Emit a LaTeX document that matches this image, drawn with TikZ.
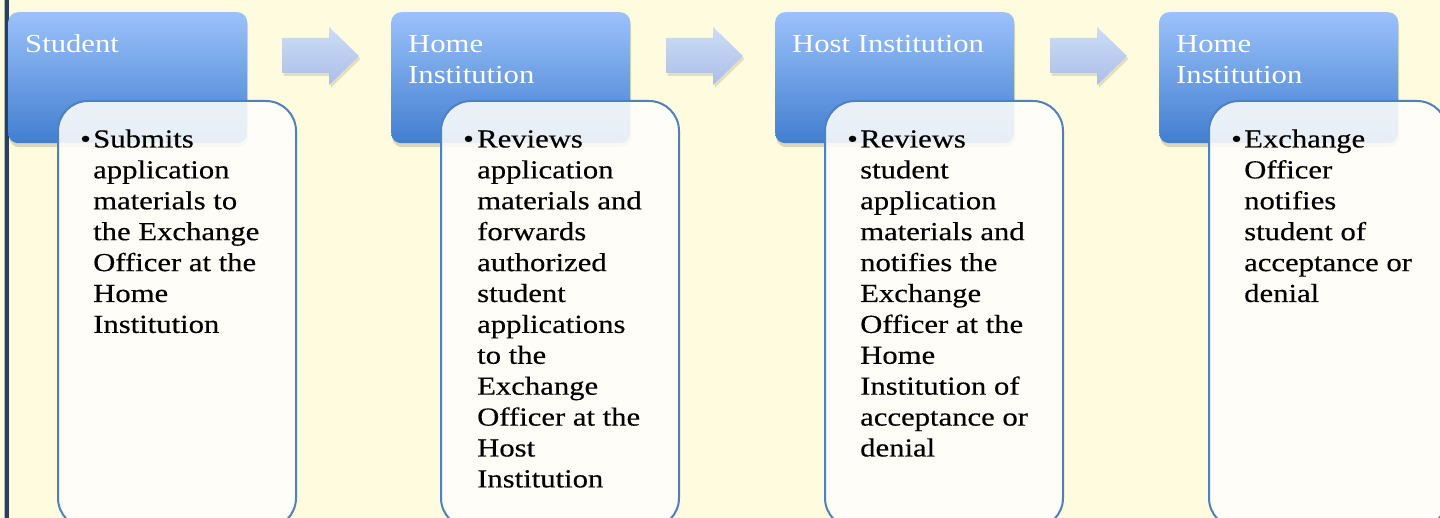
\documentclass[tikz,border=0pt]{standalone}
\usepackage{fontspec}
\setmainfont[FakeStretch=1.18,FakeBold=0.35]{Liberation Serif}
\newfontfamily\hdfont[FakeStretch=1.18]{Liberation Serif}
\usetikzlibrary{shadows}
\definecolor{bgc}{RGB}{255,251,222}
\definecolor{edge}{RGB}{36,63,96}
\definecolor{hdtop}{RGB}{155,194,250}
\definecolor{hdbot}{RGB}{66,126,208}
\definecolor{artop}{RGB}{205,221,247}
\definecolor{arbot}{RGB}{170,190,232}
\definecolor{tbline}{RGB}{79,129,189}
\definecolor{tbfill}{RGB}{254,254,251}
\definecolor{shd}{RGB}{120,110,80}
\tikzset{
  hdr/.style={rounded corners=10pt, top color=hdtop, bottom color=hdbot, draw=none,
    minimum width=239pt, minimum height=131pt, anchor=north west, inner sep=0pt,
    drop shadow={shadow xshift=1pt, shadow yshift=-4pt, opacity=0.25, fill=shd}},
  tbox/.style={rounded corners=30pt, draw=tbline, line width=2pt, fill=tbfill, fill opacity=0.88,
    minimum width=238pt, minimum height=427pt, anchor=north west, inner sep=0pt},
  htxt/.style={text=white, anchor=base west, inner sep=0pt, font=\hdfont\fontsize{26}{30.5}\selectfont},
  btxt/.style={text=black, anchor=base west, inner sep=0pt, font=\fontsize{26}{30.9}\selectfont},
  arw/.style={top color=artop, bottom color=arbot, draw=none,
    drop shadow={shadow xshift=1.5pt, shadow yshift=-3pt, opacity=0.2, fill=shd}}
}
\newcommand{\btext}[1]{\parbox[t]{200pt}{\raggedright\fontsize{26}{30.9}\selectfont #1}}
\newcommand{\htext}[1]{\parbox[t]{220pt}{\raggedright\hdfont\fontsize{26}{30.5}\selectfont #1}}
\begin{document}
\begin{tikzpicture}[x=1pt,y=-1pt]
\useasboundingbox (0,0) rectangle (1440,518);
\begin{scope}
\clip (0,0) rectangle (1440,518);
\fill[bgc] (0,0) rectangle (1440,518);
\fill[gray!60] (3.5,0) rectangle (5,518);
\fill[edge] (5,0) rectangle (9,518);
% arrows
\foreach \dx in {0,384,768}{
  \path[arw] ({282+\dx},38) -- ({329+\dx},38) -- ({329+\dx},27) -- ({359+\dx},56)
     -- ({329+\dx},85) -- ({329+\dx},73) -- ({282+\dx},73) -- cycle;
}
% headers
\node[hdr] (h1) at (8,12) {};
\node[hdr] (h2) at (391,12) {};
\node[hdr] (h3) at (775,12) {};
\node[hdr] (h4) at (1159,12) {};
\node[htxt] (ht1) at (25,53) {\htext{Student}};
\node[htxt] (ht2) at (408,53) {\htext{Home\\Institution}};
\node[htxt] (ht3) at (792,53) {\htext{Host Institution}};
\node[htxt] (ht4) at (1176,53) {\htext{Home\\Institution}};
% text boxes
\node[tbox] (b1) at (57,100) {};
\node[tbox] (b2) at (440,100) {};
\node[tbox] (b3) at (824,100) {};
\node[tbox] (b4) at (1208,100) {};
% bullets
\node[btxt] (u1) at (80,147.5) {•};
\node[btxt] (u2) at (463,147.5) {•};
\node[btxt] (u3) at (847,147.5) {•};
\node[btxt] (u4) at (1231,147.5) {•};
% texts
\node[btxt] (t1) at (93,147.5) {\btext{Submits\\application\\materials to\\the Exchange\\Officer at the\\Home\\Institution}};
\node[btxt] (t2) at (477,147.5) {\btext{Reviews\\application\\materials and\\forwards\\authorized\\student\\applications\\to the\\Exchange\\Officer at the\\Host\\Institution}};
\node[btxt] (t3) at (860,147.5) {\btext{Reviews\\student\\application\\materials and\\notifies the\\Exchange\\Officer at the\\Home\\Institution of\\acceptance or\\denial}};
\node[btxt] (t4) at (1244,147.5) {\btext{Exchange\\Officer\\notifies\\student of\\acceptance or\\denial}};
\end{scope}
\end{tikzpicture}
\end{document}
